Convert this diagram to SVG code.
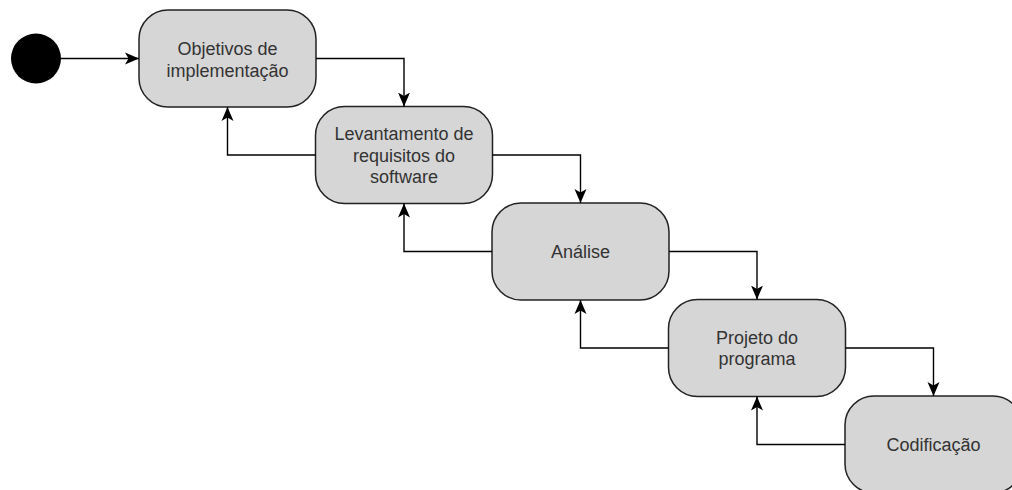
<svg xmlns="http://www.w3.org/2000/svg" width="1012" height="490" viewBox="0 0 1012 490">
<defs>
<marker id="arr" markerUnits="userSpaceOnUse" markerWidth="15" markerHeight="14" viewBox="0 0 15 14" refX="14" refY="7" orient="auto">
<path d="M0,1 L14,7 L0,13 L3.5,7 Z" fill="#000"/>
</marker>
<style>
.node rect{fill:#d6d6d6;stroke:#222;stroke-width:1.5}
.node text{font-family:"Liberation Sans",Arial,sans-serif;font-size:18px;fill:#333;text-anchor:middle}
.conn path{fill:none;stroke:#000;stroke-width:1.4;marker-end:url(#arr)}
</style>
</defs>
<rect width="1012" height="490" fill="#fff"/>
<g id="start"><circle cx="36" cy="58.5" r="25" fill="#000"/></g>
<g id="n1" class="node"><rect x="139" y="10" width="177" height="97" rx="29"/><text x="227.5" y="55">Objetivos de</text><text x="227.5" y="76.5">implementação</text></g>
<g id="n2" class="node"><rect x="315.5" y="106.5" width="177" height="97" rx="29"/><text x="404" y="140">Levantamento de</text><text x="404" y="161.5">requisitos do</text><text x="404" y="183">software</text></g>
<g id="n3" class="node"><rect x="492" y="203" width="177" height="97" rx="29"/><text x="580.5" y="258">Análise</text></g>
<g id="n4" class="node"><rect x="668.5" y="299.5" width="177" height="97" rx="29"/><text x="757" y="343.5">Projeto do</text><text x="757" y="365">programa</text></g>
<g id="n5" class="node"><rect x="845" y="396" width="177" height="97" rx="29"/><text x="933.5" y="451">Codificação</text></g>
<g id="connectors" class="conn">
<path d="M61,58.5 H139"/>
<path d="M316,58.5 H404 V106.5"/>
<path d="M315.5,155 H227.5 V107"/>
<path d="M492.5,155 H580.5 V203"/>
<path d="M492,251.5 H404 V203.5"/>
<path d="M669,251.5 H757 V299.5"/>
<path d="M668.5,348 H580.5 V300"/>
<path d="M845.5,348 H933.5 V396"/>
<path d="M845,444.5 H757 V396.5"/>
</g>
</svg>
